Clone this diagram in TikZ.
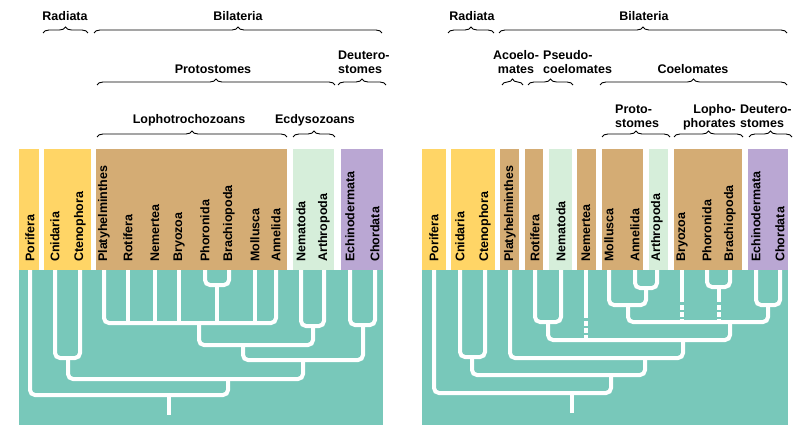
\documentclass[tikz,border=0pt]{standalone}
\usepackage{fontspec}
\setmainfont{Liberation Sans}
\usetikzlibrary{decorations.pathreplacing}
\definecolor{radcol}{RGB}{255,213,102}
\definecolor{lophcol}{RGB}{212,172,116}
\definecolor{ecdcol}{RGB}{214,238,218}
\definecolor{deucol}{RGB}{186,167,211}
\definecolor{treecol}{RGB}{120,200,186}
\tikzset{
  taxon/.style={rotate=90, anchor=west, inner sep=0, font=\bfseries\fontsize{12.5}{14}\selectfont},
  group/.style={inner sep=0, anchor=base, font=\bfseries\fontsize{12.5}{14}\selectfont},
  brc/.style={decorate, decoration={brace, amplitude=6pt}, line width=0.9pt},
  branch/.style={white, line width=4pt, rounded corners=5pt},
  broken/.style={branch, dash pattern=on 5pt off 2pt},
}

\begin{document}
\begin{tikzpicture}[x=1pt,y=-1pt]
\useasboundingbox (0,0) rectangle (798,425);

% left tree
\fill[radcol] (19,149) rectangle (39,270);
\fill[radcol] (44,149) rectangle (91,270);
\fill[lophcol] (96,149) rectangle (287,270);
\fill[ecdcol] (293,149) rectangle (334,270);
\fill[deucol] (341,149) rectangle (383,270);
\fill[treecol] (19,270) rectangle (383,425);
\foreach \x/\t in {30/Porifera,55/Cnidaria,80/Ctenophora,104/Platyhelminthes,128/Rotifera,155/Nemertea,179/Bryozoa,205/Phoronida,229/Brachiopoda,255/Mollusca,276/Annelida,301/Nematoda,324/Arthropoda,350/Echinodermata,375/Chordata} {
  \coordinate (L\t) at (\x,270);
  \node[taxon] (L\t-txt) at (\x,262) {\t};
}
\draw[branch] (LPorifera) |- (228,395) -- (228,379);
\draw[branch] (169,395) -- (169,415);
\draw[branch] (LCnidaria) |- (80,358) -- (LCtenophora);
\draw[branch] (68,358) |- (303,379) -- (303,360);
\draw[branch] (LPlatyhelminthes) |- (276,323) -- (LAnnelida);
\foreach \t in {Rotifera,Nemertea,Bryozoa,Mollusca}
  \draw[branch] (L\t) -- ++(0,53);
\draw[branch] (LPhoronida) |- (229,285) -- (LBrachiopoda);
\draw[branch] (217,285) -- (217,323);
\draw[branch] (199,323) |- (313,345) -- (313,326);
\draw[branch] (LNematoda) |- (324,326) -- (LArthropoda);
\draw[branch] (243,345) |- (363,360) -- (363,325);
\draw[branch] (LEchinodermata) |- (375,325) -- (LChordata);

\draw[brc] (43,33) -- (88,33);
\node[group] (lRadiata) at (65,21) {Radiata};
\draw[brc] (94,33) -- (382,33);
\node[group] (lBilateria) at (238,21) {Bilateria};
\draw[brc] (97,85) -- (335,85);
\node[group] (lProto) at (213,73.5) {Protostomes};
\draw[brc] (338,85) -- (386,85);
\node[group, anchor=base west, align=left] (lDeutero) at (338,73.5) {Deutero-\\stomes};
\draw[brc] (97,137) -- (287,137);
\node[group] (lLopho) at (189,123.5) {Lophotrochozoans};
\draw[brc] (293,137) -- (335,137);
\node[group] (lEcdy) at (315,123.5) {Ecdysozoans};

% right tree
\fill[radcol] (422,149) rectangle (446,270);
\fill[radcol] (451,149) rectangle (495,270);
\fill[lophcol] (500,149) rectangle (519,270);
\fill[lophcol] (525,149) rectangle (543,270);
\fill[ecdcol] (549,149) rectangle (572,270);
\fill[lophcol] (577,149) rectangle (596,270);
\fill[lophcol] (602,149) rectangle (643,270);
\fill[ecdcol] (649,149) rectangle (668,270);
\fill[lophcol] (674,149) rectangle (742,270);
\fill[deucol] (748,149) rectangle (788,270);
\fill[treecol] (422,270) rectangle (788,425);
\foreach \x/\t in {434/Porifera,460/Cnidaria,485/Ctenophora,510/Platyhelminthes,535/Rotifera,561/Nematoda,586/Nemertea,609/Mollusca,635/Annelida,657/Arthropoda,682/Bryozoa,707/Phoronida,730/Brachiopoda,756/Echinodermata,780/Chordata} {
  \coordinate (R\t) at (\x,270);
  \node[taxon] (R\t-txt) at (\x,262) {\t};
}
\draw[branch] (RPorifera) |- (611,393) -- (611,375);
\draw[branch] (572,393) -- (572,413);
\draw[branch] (RCnidaria) |- (485,357) -- (RCtenophora);
\draw[branch] (472,357) |- (645,375) -- (645,358);
\draw[branch] (RPlatyhelminthes) |- (683,358) -- (683,340);
\draw[branch] (RRotifera) |- (561,322) -- (RNematoda);
\draw[branch] (548,322) |- (730,340) -- (730,322);
\draw[branch] (RNemertea) -- ++(0,48);
\draw[broken] (586,321) -- (586,340);
\draw[branch] (628,305) |- (768,322) -- (768,305);
\draw[branch] (RMollusca) |- (646,305) -- (646,288);
\draw[branch] (RAnnelida) |- (657,288) -- (RArthropoda);
\draw[branch] (RPhoronida) |- (730,287) -- (RBrachiopoda);
\draw[branch] (719,287) -- (719,302);
\draw[broken] (719,305) -- (719,322);
\draw[branch] (RBryozoa) -- ++(0,32);
\draw[broken] (682,305) -- (682,322);
\draw[branch] (REchinodermata) |- (780,305) -- (RChordata);

\draw[brc] (448,33) -- (494,33);
\node[group] (rRadiata) at (472,21) {Radiata};
\draw[brc] (499,33) -- (787,33);
\node[group] (rBilateria) at (644,21) {Bilateria};
\draw[brc] (502,85) -- (523,85);
\node[group, align=center] (rAcoel) at (516,73.5) {Acoelo-\\mates};
\draw[brc] (528,85) -- (573,85);
\node[group, anchor=base west, align=left] (rPseudo) at (543,73.5) {Pseudo-\\coelomates};
\draw[brc] (600,85) -- (787,85);
\node[group] (rCoel) at (693,73.5) {Coelomates};
\draw[brc] (602,137) -- (670,137);
\node[group, anchor=base west, align=left] (rProto) at (615,128) {Proto-\\stomes};
\draw[brc] (674,137) -- (743,137);
\node[group, anchor=base east, align=right] (rLopho) at (736,128) {Lopho-\\phorates};
\draw[brc] (749,137) -- (792,137);
\node[group, anchor=base west, align=left] (rDeutero) at (740,128) {Deutero-\\stomes};
\end{tikzpicture}
\end{document}
